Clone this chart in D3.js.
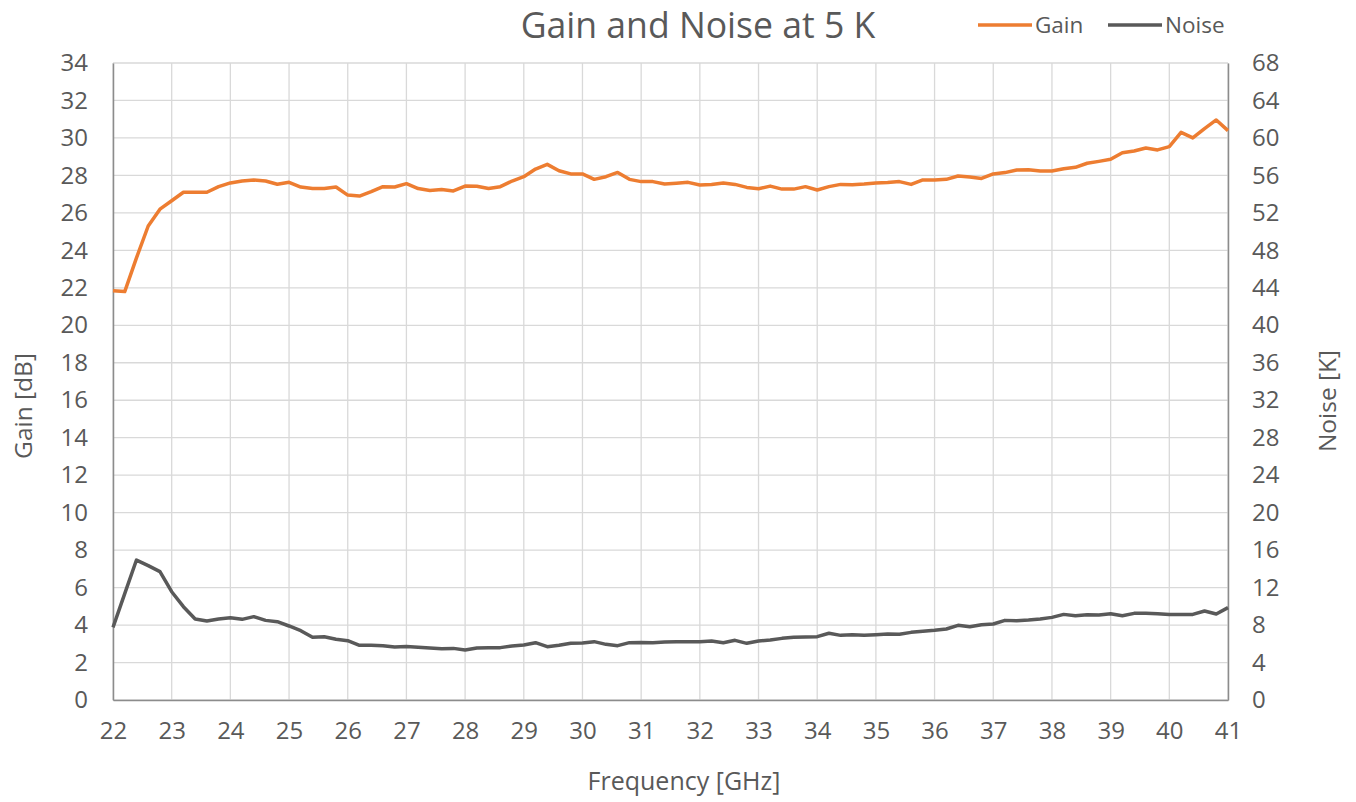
<!DOCTYPE html>
<html lang="en">
<head>
    <meta charset="UTF-8">
    <title>Gain and Noise at 5 K</title>
    <script src="https://d3js.org/d3.v7.min.js"></script>
    <style>
        body {
            margin: 0;
            background: #fff;
            font-family: "Open Sans", Roboto, sans-serif;
        }
        text {
            fill: #595959;
        }
    </style>
</head>
<body>
    <div id="chart"></div>

    <script>
        // Frequency points, 22 to 41 GHz in 0.2 GHz steps
        const freqs = d3.range(0, 96).map(i => +(22 + i * 0.2).toFixed(1));

        // Gain [dB]
        const gain = [
            21.85, 21.8, 23.6, 25.3, 26.2, 26.65, 27.1, 27.1, 27.1, 27.4,
            27.6, 27.7, 27.75, 27.7, 27.53, 27.63, 27.38, 27.3, 27.3, 27.38,
            26.95, 26.9, 27.13, 27.4, 27.38, 27.56, 27.3, 27.2, 27.25, 27.17,
            27.43, 27.42, 27.3, 27.4, 27.7, 27.93, 28.34, 28.59, 28.25, 28.08,
            28.08, 27.79, 27.93, 28.16, 27.79, 27.67, 27.67, 27.54, 27.58, 27.63,
            27.49, 27.52, 27.6, 27.52, 27.36, 27.29, 27.43, 27.27, 27.27, 27.4,
            27.22, 27.4, 27.52, 27.5, 27.54, 27.6, 27.62, 27.67, 27.52, 27.76,
            27.76, 27.79, 27.97, 27.91, 27.84, 28.08, 28.15, 28.29, 28.3, 28.24,
            28.24, 28.36, 28.43, 28.65, 28.75, 28.86, 29.21, 29.3, 29.46, 29.36,
            29.54, 30.3, 30.0, 30.5, 30.96, 30.39
        ];

        // Noise [K]
        const noise = [
            7.76, 11.35, 14.94, 14.34, 13.7, 11.56, 9.96, 8.65, 8.43, 8.65,
            8.79, 8.61, 8.9, 8.5, 8.36, 7.9, 7.4, 6.69, 6.76, 6.48,
            6.33, 5.84, 5.84, 5.8, 5.66, 5.7, 5.62, 5.55, 5.48, 5.51,
            5.34, 5.55, 5.58, 5.59, 5.76, 5.87, 6.12, 5.69, 5.84, 6.05,
            6.08, 6.23, 5.94, 5.8, 6.12, 6.15, 6.12, 6.19, 6.23, 6.23,
            6.23, 6.3, 6.12, 6.37, 6.05, 6.3, 6.4, 6.58, 6.69, 6.72,
            6.76, 7.12, 6.9, 6.97, 6.9, 6.97, 7.05, 7.01, 7.22, 7.33,
            7.44, 7.58, 7.97, 7.83, 8.04, 8.11, 8.5, 8.47, 8.54, 8.65,
            8.82, 9.14, 9.0, 9.1, 9.07, 9.21, 9.0, 9.25, 9.25, 9.21,
            9.14, 9.14, 9.14, 9.5, 9.18, 9.86
        ];

        const xTicks = d3.range(22, 42, 1);
        const gainTicks = d3.range(0, 35, 2);
        const noiseTicks = d3.range(0, 69, 4);

        const width = 1356, height = 802;
        const margin = { top: 63, right: 128, bottom: 102, left: 113 };

        const svg = d3.select("#chart")
            .append("svg")
            .attr("width", width)
            .attr("height", height);

        const x = d3.scaleLinear()
            .domain([22, 41])
            .range([margin.left, width - margin.right]);
        const yGain = d3.scaleLinear()
            .domain([0, 34])
            .range([height - margin.bottom, margin.top]);
        const yNoise = d3.scaleLinear()
            .domain([0, 68])
            .range([height - margin.bottom, margin.top]);

        // gridlines
        const grid = svg.append("g")
            .attr("stroke", "#d9d9d9")
            .attr("stroke-width", 1.3);
        grid.selectAll("line.v")
            .data(xTicks)
            .join("line")
            .attr("class", "v")
            .attr("x1", d => x(d)).attr("x2", d => x(d))
            .attr("y1", margin.top).attr("y2", height - margin.bottom);
        grid.selectAll("line.h")
            .data(gainTicks)
            .join("line")
            .attr("class", "h")
            .attr("x1", margin.left).attr("x2", width - margin.right)
            .attr("y1", d => yGain(d)).attr("y2", d => yGain(d));

        // axes
        const axisStyle = g => {
            g.select(".domain").attr("stroke", "#8c8c8c").attr("stroke-width", 1.5);
            g.selectAll(".tick line").remove();
            g.selectAll(".tick text")
                .attr("fill", "#595959")
                .style("font-size", "24px")
                .style("font-family", "'Open Sans', sans-serif");
        };

        svg.append("g")
            .attr("transform", `translate(0,${height - margin.bottom})`)
            .call(d3.axisBottom(x).tickValues(xTicks).tickSize(0).tickPadding(22).tickSizeOuter(0))
            .call(axisStyle);

        svg.append("g")
            .attr("transform", `translate(${margin.left},0)`)
            .call(d3.axisLeft(yGain).tickValues(gainTicks).tickSize(0).tickPadding(25).tickSizeOuter(0))
            .call(axisStyle);

        svg.append("g")
            .attr("transform", `translate(${width - margin.right},0)`)
            .call(d3.axisRight(yNoise).tickValues(noiseTicks).tickSize(0).tickPadding(24).tickSizeOuter(0))
            .call(axisStyle);

        // lines
        const gainLine = d3.line()
            .x((d, i) => x(freqs[i]))
            .y(d => yGain(d));
        const noiseLine = d3.line()
            .x((d, i) => x(freqs[i]))
            .y(d => yNoise(d));

        svg.append("path")
            .datum(noise)
            .attr("fill", "none")
            .attr("stroke", "#595959")
            .attr("stroke-width", 3.5)
            .attr("stroke-linejoin", "round")
            .attr("d", noiseLine);

        svg.append("path")
            .datum(gain)
            .attr("fill", "none")
            .attr("stroke", "#ed7d31")
            .attr("stroke-width", 3.5)
            .attr("stroke-linejoin", "round")
            .attr("d", gainLine);

        // title
        svg.append("text")
            .attr("x", 698)
            .attr("y", 38)
            .attr("text-anchor", "middle")
            .style("font-size", "35.6px")
            .text("Gain and Noise at 5 K");

        // axis titles
        svg.append("text")
            .attr("x", 684)
            .attr("y", 790)
            .attr("text-anchor", "middle")
            .style("font-size", "25px")
            .text("Frequency [GHz]");

        svg.append("text")
            .attr("transform", "translate(32,406) rotate(-90)")
            .attr("text-anchor", "middle")
            .style("font-size", "24.5px")
            .text("Gain [dB]");

        svg.append("text")
            .attr("transform", "translate(1336,401) rotate(-90)")
            .attr("text-anchor", "middle")
            .style("font-size", "24.5px")
            .text("Noise [K]");

        // legend
        const legendItems = [
            { name: "Gain", color: "#ed7d31", x: 978 },
            { name: "Noise", color: "#595959", x: 1108 }
        ];
        const legend = svg.append("g")
            .selectAll("g")
            .data(legendItems)
            .join("g")
            .attr("transform", d => `translate(${d.x},25)`);
        legend.append("line")
            .attr("x1", 0).attr("x2", 54)
            .attr("stroke", d => d.color)
            .attr("stroke-width", 3.5);
        legend.append("text")
            .attr("x", 57)
            .attr("y", 8)
            .style("font-size", "22.5px")
            .text(d => d.name);
    </script>
</body>
</html>
